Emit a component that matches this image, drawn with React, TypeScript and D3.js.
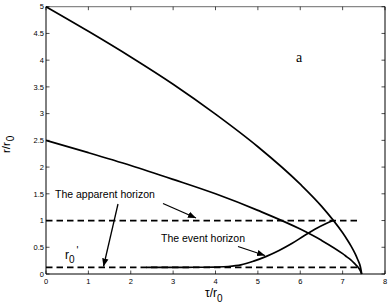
import React from "react";
import * as d3 from "d3";

const xTicks = [0, 1, 2, 3, 4, 5, 6, 7, 8];
const yTicks = [0, 0.5, 1, 1.5, 2, 2.5, 3, 3.5, 4, 4.5, 5];
const yTickLabels = ["0", "0.5", "1", "1.5", "2", "2.5", "3", "3.5", "4", "4.5", "5"];

const surfaceT = [0, 1, 2, 3, 4, 5, 6, 6.5, 7, 7.1, 7.2, 7.3, 7.35, 7.42, 7.45];
const outerR = [5, 4.54, 4.06, 3.55, 2.99, 2.38, 1.68, 1.27, 0.77, 0.65, 0.52, 0.37, 0.28, 0.13, 0];
const innerR = [2.5, 2.27, 2.03, 1.77, 1.5, 1.19, 0.84, 0.63, 0.38, 0.32, 0.26, 0.18, 0.14, 0.06, 0];

const eventT = [2.37, 3.0, 3.5, 4.0, 4.3, 4.6, 4.9, 5.2, 5.5, 5.8, 6.1, 6.4, 6.6, 6.78];
const eventR = [0.125, 0.125, 0.126, 0.13, 0.14, 0.17, 0.24, 0.33, 0.44, 0.57, 0.72, 0.86, 0.94, 1.0];

const apparentLevel = 1;
const r0Level = 0.125;
const dashEnd = 7.43;

const W = 390;
const H = 307;
const FONT = "'Liberation Sans', Arial, Helvetica, sans-serif";

export default function App() {
  const x = d3.scaleLinear().domain([0, 8]).range([46, 385]);
  const y = d3.scaleLinear().domain([0, 5]).range([274, 6.7]);

  const line = d3
    .line<[number, number]>()
    .x((d) => x(d[0]))
    .y((d) => y(d[1]))
    .curve(d3.curveMonotoneX);

  const smooth = d3
    .line<[number, number]>()
    .x((d) => x(d[0]))
    .y((d) => y(d[1]))
    .curve(d3.curveCatmullRom.alpha(0.5));

  const outer = line(surfaceT.map((t, i) => [t, outerR[i]] as [number, number])) || "";
  const inner = line(surfaceT.map((t, i) => [t, innerR[i]] as [number, number])) || "";
  const event = smooth(eventT.map((t, i) => [t, eventR[i]] as [number, number])) || "";

  const [x0, x1] = x.range();
  const [y0, y1] = y.range();

  // arrows: [fromX, fromY, toX, toY] in pixels next to the labels
  const arrows = [
    [118, 204, 103.5, 266.5],
    [163, 203.5, 196, 218],
    [238, 246.5, 265, 255.5],
  ];

  return (
    <svg
      width={W}
      height={H}
      style={{ position: "absolute", left: 0, top: 0, background: "#fff" }}
      fontFamily={FONT}
    >
      <defs>
        <marker
          id="head"
          viewBox="0 0 10 10"
          refX="10"
          refY="5"
          markerWidth="8"
          markerHeight="8"
          markerUnits="userSpaceOnUse"
          orient="auto"
        >
          <path d="M0,1 L10,5 L0,9 z" fill="#000" />
        </marker>
      </defs>
      <rect width={W} height={H} fill="#fff" />

      {/* frame */}
      <line x1={x0} x2={x1} y1={y1} y2={y1} stroke="#888" strokeWidth={1.2} />
      <line x1={x1} x2={x1} y1={y1} y2={y0} stroke="#000" strokeWidth={1} />
      <line x1={x0} x2={x0} y1={y1} y2={y0} stroke="#000" strokeWidth={1} />
      <line x1={x0} x2={x1} y1={y0} y2={y0} stroke="#000" strokeWidth={1} />

      {/* ticks */}
      {xTicks.map((t) => (
        <g key={"x" + t}>
          <line x1={x(t)} x2={x(t)} y1={y0} y2={y0 - 3.5} stroke="#000" strokeWidth={0.7} />
          <line x1={x(t)} x2={x(t)} y1={y1} y2={y1 + 3.5} stroke="#000" strokeWidth={0.7} />
          <text x={x(t)} y={284} fontSize={7.5} textAnchor="middle" fill="#000">
            {t}
          </text>
        </g>
      ))}
      {yTicks.map((v, i) => (
        <g key={"y" + v}>
          <line x1={x0} x2={x0 + 3.5} y1={y(v)} y2={y(v)} stroke="#000" strokeWidth={0.7} />
          <line x1={x1} x2={x1 - 3.5} y1={y(v)} y2={y(v)} stroke="#000" strokeWidth={0.7} />
          <text x={44} y={y(v) + 2.7} fontSize={7.5} textAnchor="end" fill="#000">
            {yTickLabels[i]}
          </text>
        </g>
      ))}

      {/* horizon levels */}
      <line
        x1={x(0)}
        x2={x(dashEnd)}
        y1={y(apparentLevel)}
        y2={y(apparentLevel)}
        stroke="#000"
        strokeWidth={1.8}
        strokeDasharray="6.5,4"
      />
      <line
        x1={x(0)}
        x2={x(dashEnd)}
        y1={y(r0Level)}
        y2={y(r0Level)}
        stroke="#000"
        strokeWidth={1.8}
        strokeDasharray="6.5,4"
      />

      {/* curves */}
      <path d={outer} fill="none" stroke="#000" strokeWidth={1.7} />
      <path d={inner} fill="none" stroke="#000" strokeWidth={1.7} />
      <path d={event} fill="none" stroke="#000" strokeWidth={1.7} />

      {/* arrows */}
      {arrows.map((a, i) => (
        <line
          key={i}
          x1={a[0]}
          y1={a[1]}
          x2={a[2]}
          y2={a[3]}
          stroke="#000"
          strokeWidth={1.3}
          markerEnd="url(#head)"
        />
      ))}

      {/* annotations */}
      <text x={55} y={198} fontSize={10.5} fill="#000">
        The apparent horizon
      </text>
      <text x={161} y={242} fontSize={10.5} fill="#000">
        The event horizon
      </text>
      <text x={296} y={62} fontSize={14} fontFamily="'Liberation Serif', 'Times New Roman', serif" fill="#000">
        a
      </text>
      <text x={65} y={259} fontSize={12} fill="#000">
        r
        <tspan dy={4} fontSize={10}>0</tspan>
        <tspan dy={-9} dx={2} fontSize={10}>'</tspan>
      </text>

      {/* axis labels */}
      <text x={205} y={297} fontSize={12} fill="#000">
        τ/r
        <tspan dy={5} fontSize={10}>0</tspan>
      </text>
      <text transform="translate(10,153) rotate(-90)" fontSize={11.5} fill="#000">
        r/r
        <tspan dy={4} dx={1} fontSize={10}>0</tspan>
      </text>
    </svg>
  );
}
